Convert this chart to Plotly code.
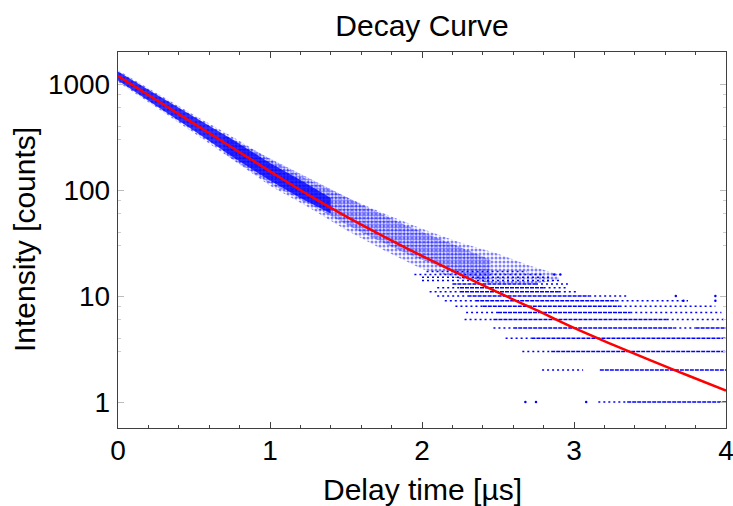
import plotly.graph_objects as go

# ---------------- data ----------------
# fitted decay curve (red)
fit_t = [0, 0.25, 0.5, 0.75, 1.0, 1.25, 1.5, 1.75, 2.0, 2.25, 2.5, 2.75, 3.0, 3.25, 3.5, 3.75, 4.0]
fit_I = [1191, 710, 423, 252, 150, 90.4, 56.4, 36.4, 23.9, 16.0, 10.8, 7.39, 5.0, 3.5, 2.48, 1.78, 1.28]

# dense core of the measured counts (blue), upper / lower edge
band_t = [0, 0.25, 0.5, 0.75, 1.0, 1.2, 1.4]
band_hi = [1310, 800, 490, 302, 180, 124, 84]
band_lo = [1080, 625, 362, 207, 123, 84, 60]

# inner scattered cloud (denser dots)
inner_t = [0.7, 1.0, 1.3, 1.6, 1.9, 2.2, 2.45]
inner_hi = [330, 198, 120, 73, 46, 31, 22]
inner_lo = [220, 115, 68, 40, 25, 17, 13]

# outer scattered cloud of measured counts, upper / lower edge
cloud_t = [0, 0.25, 0.5, 0.75, 1.0, 1.25, 1.5, 1.75, 2.0, 2.25, 2.5, 2.7, 2.9]
cloud_hi = [1350, 825, 510, 320, 195, 124, 86, 60, 43, 32, 25, 19.5, 16]
cloud_lo = [1045, 605, 345, 195, 110, 69, 42, 27, 18, 14.5, 13, 13, 14]

# low-count integer levels: densely filled stretches (level, from, to)
dense_level = [1, 2, 3, 4, 5, 5, 6, 7, 8, 9, 10, 11, 12, 13]
dense_t0 = [3.35, 3.17, 2.85, 2.72, 2.60, 3.80, 2.47, 2.50, 2.40, 2.35, 2.30, 2.25, 2.25, 2.20]
dense_t1 = [4.00, 4.00, 4.00, 4.00, 3.66, 4.00, 3.61, 3.37, 3.30, 3.28, 3.10, 2.90, 2.80, 2.75]

# low-count integer levels: sparsely filled stretches (level, from, to)
sparse_level = [1, 2, 3, 4, 5, 5, 6, 6, 7, 7, 8, 8, 9, 9, 10, 10, 11, 11, 12, 12, 13, 14, 15, 16, 17]
sparse_t0 = [3.16, 2.79, 2.66, 2.55, 2.47, 3.66, 2.28, 3.61, 2.29, 3.37, 2.22, 3.30, 2.15, 3.28,
             2.10, 3.10, 2.05, 2.90, 2.10, 2.80, 2.75, 2.00, 2.00, 1.95, 2.03]
sparse_t1 = [3.35, 3.06, 2.85, 2.72, 2.60, 3.80, 2.47, 4.00, 2.50, 3.97, 2.40, 3.93, 2.35, 3.75,
             2.30, 3.35, 2.25, 3.03, 2.25, 2.96, 2.96, 2.92, 2.85, 2.80, 2.69]

# isolated single counts
lone_t = [2.68, 2.75, 3.08, 3.93, 3.67, 3.93, 3.72, 2.87, 2.91]
lone_I = [1, 1, 1, 9, 10, 10, 9, 16, 16]

x_ticks = [0, 1, 2, 3, 4]
y_ticks = [1, 10, 100, 1000]
y_tick_text = ["1", "10", "100", "1000"]
y_minor = [3, 4, 6, 8, 30, 40, 60, 80, 300, 400, 600, 800]

BLUE = "#0000ff"
FONT = "Liberation Sans, Arial, sans-serif"


def segments(levels, t0s, t1s):
    xs, ys = [], []
    for k, a, b in zip(levels, t0s, t1s):
        xs += [a, b, None]
        ys += [k, k, None]
    return xs, ys


def area(ts, hi, lo):
    return ts + ts[::-1], hi + lo[::-1]


fig = go.Figure()

# outer scattered cloud
cx, cy = area(cloud_t, cloud_hi, cloud_lo)
fig.add_trace(go.Scatter(
    x=cx, y=cy, mode="none", fill="toself", fillcolor="rgba(255,255,255,0)",
    fillpattern=dict(shape=".", fgcolor=BLUE, bgcolor="rgba(255,255,255,0)",
                     size=4, solidity=0.45),
    hoverinfo="skip", showlegend=False))

# inner scattered cloud
ix, iy = area(inner_t, inner_hi, inner_lo)
fig.add_trace(go.Scatter(
    x=ix, y=iy, mode="none", fill="toself", fillcolor="rgba(255,255,255,0)",
    fillpattern=dict(shape=".", fgcolor=BLUE, bgcolor="rgba(255,255,255,0)",
                     size=3, solidity=0.6),
    hoverinfo="skip", showlegend=False))

# dense core
bx, by = area(band_t, band_hi, band_lo)
fig.add_trace(go.Scatter(
    x=bx, y=by, mode="none", fill="toself", fillcolor="rgba(0,0,255,0.8)",
    hoverinfo="skip", showlegend=False))

# sparse levels
sx, sy = segments(sparse_level, sparse_t0, sparse_t1)
fig.add_trace(go.Scatter(x=sx, y=sy, mode="lines",
                         line=dict(color=BLUE, width=1.5, dash="2px,3px"),
                         hoverinfo="skip", showlegend=False))
# dense levels
dx, dy = segments(dense_level, dense_t0, dense_t1)
fig.add_trace(go.Scatter(x=dx, y=dy, mode="lines",
                         line=dict(color=BLUE, width=1.5, dash="4px,1px"),
                         hoverinfo="skip", showlegend=False))
# lone points
fig.add_trace(go.Scatter(x=lone_t, y=lone_I, mode="markers",
                         marker=dict(color=BLUE, size=2.5),
                         hoverinfo="skip", showlegend=False))

# fit curve
fig.add_trace(go.Scatter(x=fit_t, y=fit_I, mode="lines",
                         line=dict(color="#ff0000", width=2.5, shape="spline"),
                         hoverinfo="skip", showlegend=False))

PLOT_L, PLOT_T, PLOT_W, PLOT_H = 118, 52, 608, 376

fig.update_layout(
    width=733, height=506,
    margin=dict(l=PLOT_L, r=733 - PLOT_L - PLOT_W, t=PLOT_T, b=506 - PLOT_T - PLOT_H,
                autoexpand=False),
    paper_bgcolor="white", plot_bgcolor="white",
    font=dict(family=FONT, color="black"),
    showlegend=False,
    title=dict(text="Decay Curve", x=0.5, xref="paper", xanchor="center",
               y=1 - 25.5 / 506, yref="container", yanchor="middle",
               font=dict(size=30, family=FONT, color="black")),
    xaxis=dict(range=[0, 4], tickvals=x_ticks, ticks="inside", ticklen=6,
               tickcolor="#404040", tickwidth=1.2,
               minor=dict(dtick=0.2, ticks="inside", ticklen=3, tickcolor="#404040", tickwidth=1),
               showline=True, linecolor="#404040", linewidth=1.4, mirror="ticks",
               showgrid=False, zeroline=False, ticklabelstandoff=-3,
               ticklabeloverflow="allow",
               tickfont=dict(size=28, family=FONT, color="black")),
    yaxis=dict(type="log", range=[-0.245, 3.302], tickvals=y_ticks, ticktext=y_tick_text,
               ticks="inside", ticklen=6, tickcolor="#bbbbbb", tickwidth=1,
               minor=dict(tickvals=y_minor, ticks="inside", ticklen=3, tickcolor="#cccccc", tickwidth=1),
               showline=True, linecolor="#404040", linewidth=1.4, mirror="ticks",
               showgrid=False, zeroline=False, ticklabelstandoff=1,
               ticklabeloverflow="allow",
               tickfont=dict(size=28, family=FONT, color="black")),
    annotations=[
        dict(text="Delay time [µs]", xref="paper", yref="paper", x=0.5,
             y=(PLOT_H - (490 - PLOT_T)) / PLOT_H, xanchor="center", yanchor="middle",
             showarrow=False, font=dict(size=30, family=FONT, color="black")),
        dict(text="Intensity [counts]", xref="paper", yref="paper",
             x=(24 - PLOT_L) / PLOT_W, y=0.5, xanchor="center", yanchor="middle",
             textangle=-90, showarrow=False, font=dict(size=30, family=FONT, color="black")),
    ],
)

fig.write_html("out.html", config={"displayModeBar": False},
               post_script="document.body.style.margin='0px';document.body.style.overflow='hidden';")
